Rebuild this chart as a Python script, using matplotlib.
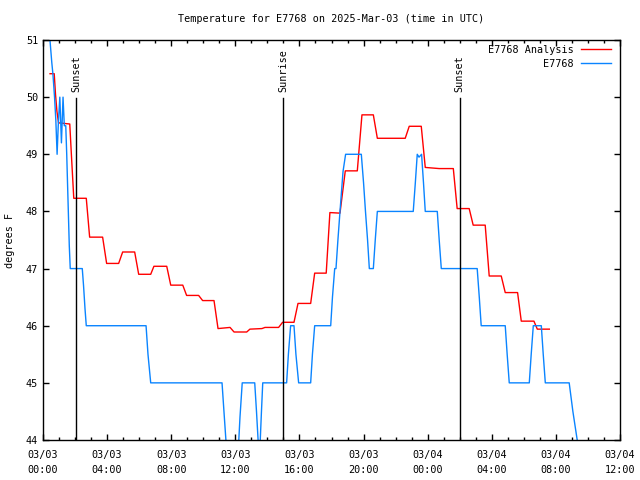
import matplotlib
matplotlib.use("Agg")
import matplotlib.pyplot as plt

plt.rcParams['font.family'] = ['DejaVu Sans Mono']

# hours since 2025-03-03 00:00 UTC
analysis_t = [0.44, 0.70, 0.78, 0.87, 0.97, 1.67, 1.77, 1.92, 2.70, 2.91, 3.72, 3.97,
              4.72, 4.97, 5.72, 5.97, 6.72, 6.92, 7.72, 7.97, 8.72, 8.96, 9.71, 9.96,
              10.67, 10.92, 11.67, 11.92, 12.71, 12.91, 13.66, 13.85, 14.70, 14.95,
              15.66, 15.91, 16.70, 16.95, 17.67, 17.90, 18.53, 18.86, 19.61, 19.90,
              20.61, 20.86, 22.60, 22.85, 23.60, 23.85, 24.72, 25.60, 25.84, 26.59,
              26.84, 27.59, 27.84, 28.59, 28.84, 29.61, 29.84, 30.63, 30.84, 31.59]
analysis_v = [50.41, 50.41, 50.05, 49.75, 49.55, 49.53, 49.00, 48.23, 48.23, 47.55, 47.55, 47.09,
              47.09, 47.29, 47.29, 46.90, 46.90, 47.04, 47.04, 46.71, 46.71, 46.53, 46.53, 46.44,
              46.44, 45.95, 45.97, 45.89, 45.89, 45.94, 45.95, 45.97, 45.97, 46.06,
              46.06, 46.39, 46.39, 46.92, 46.92, 47.98, 47.97, 48.71, 48.71, 49.69,
              49.69, 49.28, 49.28, 49.49, 49.49, 48.77, 48.75, 48.75, 48.05, 48.05,
              47.76, 47.76, 46.87, 46.87, 46.58, 46.58, 46.08, 46.08, 45.94, 45.94]

obs_t = [0.42, 0.55, 0.62, 0.72, 0.80, 0.88, 0.95, 1.05, 1.15, 1.25, 1.33, 1.42, 1.48,
         1.53, 1.58, 1.64, 1.70, 2.45, 2.53, 2.62, 2.70, 6.43, 6.55, 6.72, 11.17, 11.29,
         11.46, 12.18, 12.29, 12.43, 13.21, 13.32, 13.44, 13.54, 13.63, 13.71, 15.20,
         15.31, 15.45, 15.66, 15.78, 15.95, 16.70, 16.81, 16.95, 17.95, 18.06, 18.20,
         18.28, 18.40, 18.53, 18.72, 18.88, 19.86, 20.00, 20.12, 20.25, 20.36, 20.61,
         20.73, 20.86, 23.10, 23.23, 23.35, 23.46, 23.62, 23.74, 23.85, 24.60, 24.72,
         24.85, 27.09, 27.22, 27.34, 28.84, 28.96, 29.09, 30.34, 30.46, 30.59, 31.09,
         31.21, 31.34, 32.83, 33.06, 33.33, 33.38]
obs_v = [51.05, 50.60, 50.40, 50.00, 49.60, 49.00, 49.50, 50.00, 49.20, 50.00, 49.50, 49.50, 49.00,
         48.50, 48.00, 47.40, 47.00, 47.00, 46.70, 46.30, 46.00, 46.00, 45.50, 45.00, 45.00, 44.50,
         43.80, 43.80, 44.40, 45.00, 45.00, 44.50, 43.90, 43.90, 44.50, 45.00, 45.00,
         45.50, 46.00, 46.00, 45.50, 45.00, 45.00, 45.50, 46.00, 46.00, 46.50, 47.00,
         47.00, 47.50, 48.00, 48.70, 49.00, 49.00, 48.50, 48.00, 47.50, 47.00, 47.00,
         47.50, 48.00, 48.00, 48.50, 49.00, 48.95, 49.00, 48.50, 48.00, 48.00, 47.50,
         47.00, 47.00, 46.50, 46.00, 46.00, 45.50, 45.00, 45.00, 45.50, 46.00, 46.00,
         45.50, 45.00, 45.00, 44.50, 44.00, 43.95]

sun_t = [2.07, 14.99, 26.0]
sun_labels = ["Sunset", "Sunrise", "Sunset"]

xtick_hours = [0, 4, 8, 12, 16, 20, 24, 28, 32, 36]
xtick_labels = ["03/03\n00:00", "03/03\n04:00", "03/03\n08:00", "03/03\n12:00",
                "03/03\n16:00", "03/03\n20:00", "03/04\n00:00", "03/04\n04:00",
                "03/04\n08:00", "03/04\n12:00"]

fig = plt.figure(figsize=(6.4, 4.8), dpi=100)
ax = fig.add_axes([43 / 640, 40 / 480, 577 / 640, 400 / 480])

ax.plot(analysis_t, analysis_v, color='#ff0000', lw=1, label="E7768 Analysis")
ax.plot(obs_t, obs_v, color='#0a84ff', lw=1, label="E7768")

for t, lab in zip(sun_t, sun_labels):
    ax.plot([t, t], [44, 49.98], color='black', lw=1)
    ax.text(t, 50.09, lab, rotation=90, ha='center', va='bottom', fontsize=7.3)

ax.set_xlim(0, 36)
ax.set_ylim(44, 51)
ax.set_xticks(xtick_hours)
ax.set_xticklabels(xtick_labels, fontsize=7.3, linespacing=1.6)
ax.set_xticks(range(0, 37), minor=True)
ax.set_yticks(range(44, 52))
ax.tick_params(axis='both', which='major', direction='in', length=4, width=1,
               top=True, right=True, labelsize=7.3)
ax.tick_params(axis='x', which='major', pad=7)
ax.tick_params(axis='both', which='minor', direction='in', length=2, width=1,
               top=True, right=True)
for s in ax.spines.values():
    s.set_linewidth(1)

fig.text(10 / 640, 0.5, "degrees F", rotation=90, ha='center', va='center', fontsize=7.3)
fig.text(331.5 / 640, 1 - 19 / 480, "Temperature for E7768 on 2025-Mar-03 (time in UTC)",
         ha='center', va='center', fontsize=7.3)

ax.legend(loc='upper right', bbox_to_anchor=(0.995, 1.003), frameon=False, markerfirst=False,
          handlelength=3.0, fontsize=7.3, labelspacing=0.4, borderaxespad=0.2,
          handletextpad=0.7)

fig.savefig("out.png", dpi=100)
